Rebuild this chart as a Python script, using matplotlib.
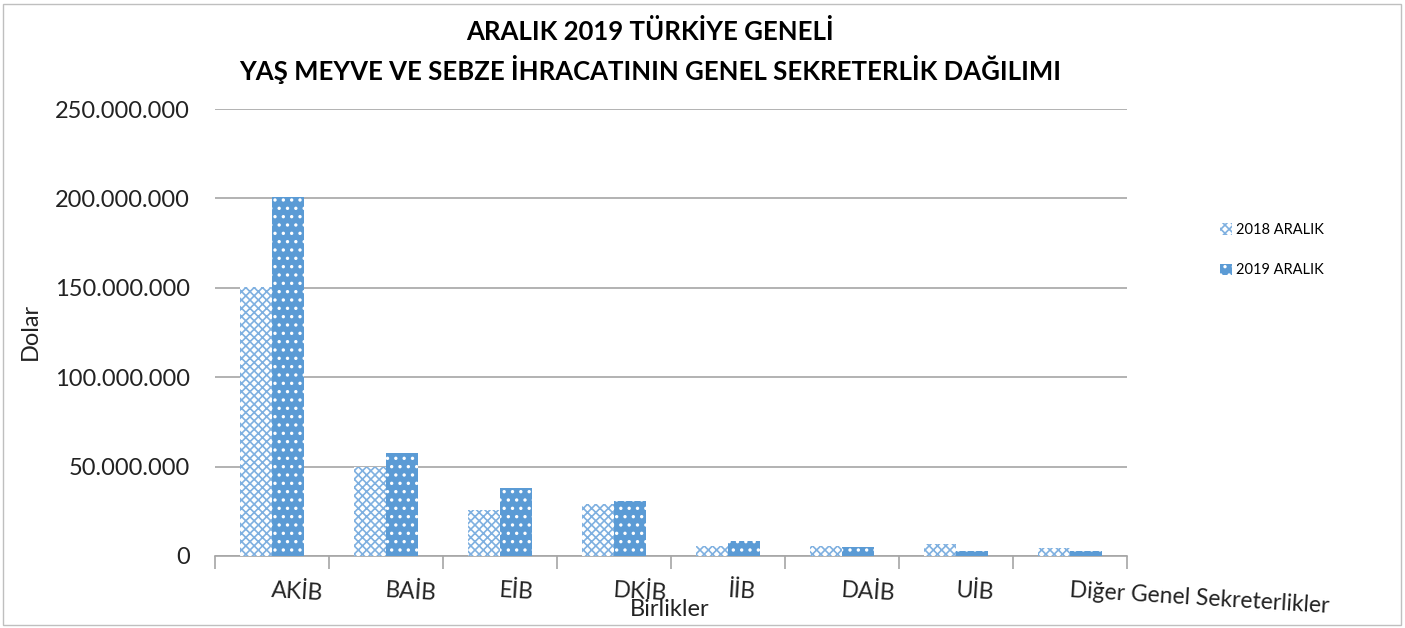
import matplotlib
matplotlib.use("Agg")
import matplotlib.pyplot as plt
import numpy as np
from matplotlib.patches import Rectangle, Patch
from matplotlib.ticker import FuncFormatter, MultipleLocator

categories = ["AKİB", "BAİB", "EİB", "DKİB", "İİB", "DAİB", "UİB", "Diğer Genel Sekreterlikler"]
values_2018 = [150_500_000, 49_800_000, 25_700_000, 29_000_000, 5_500_000, 5_600_000, 6_700_000, 4_500_000]
values_2019 = [201_000_000, 57_600_000, 38_000_000, 30_800_000, 8_400_000, 5_000_000, 2_800_000, 2_800_000]
series_names = ["2018 ARALIK", "2019 ARALIK"]
title_lines = ["ARALIK 2019 TÜRKİYE GENELİ", "YAŞ MEYVE VE SEBZE İHRACATININ GENEL SEKRETERLİK DAĞILIMI"]

plt.rcParams['font.family'] = ['Lato', 'DejaVu Sans']
plt.rcParams['hatch.linewidth'] = 1.2

fig = plt.figure(figsize=(14.05, 6.28), dpi=100)
ax = fig.add_axes([215/1405, (628-556)/628, (1127-215)/1405, (556-109)/628])

x = np.arange(len(categories))
w = 0.285
blue = "#5B9BD5"
b1 = ax.bar(x - w/2, values_2018, w, facecolor="white", edgecolor="#7FB0E0", hatch="xxxx", linewidth=0, zorder=3)
b2 = ax.bar(x + w/2, values_2019, w, facecolor=blue, edgecolor="white", hatch="..", linewidth=0, zorder=3)

ax.set_xlim(-0.5, len(categories) - 0.5)
ax.set_ylim(0, 250_000_000)
ax.yaxis.set_major_locator(MultipleLocator(50_000_000))
ax.yaxis.set_major_formatter(FuncFormatter(lambda v, p: f"{v:,.0f}".replace(",", ".")))
ax.grid(axis="y", color="#A6A6A6", linewidth=1.2, zorder=0)
for s in ["left", "right", "top"]:
    ax.spines[s].set_visible(False)
ax.spines["bottom"].set_color("#A6A6A6")
ax.spines["bottom"].set_linewidth(1.2)
ax.tick_params(axis="y", length=0, labelsize=17, pad=18, labelcolor="#222222")

ax.set_xticks(x)
ax.set_xticklabels(categories, fontsize=16.5, rotation=-3.5, rotation_mode="anchor", ha="left", va="top",
                   color="#222222")
ax.tick_params(axis="x", which="major", length=0, pad=17)
ax.set_xticks(np.arange(len(categories) + 1) - 0.5, minor=True)
ax.tick_params(axis="x", which="minor", length=9, width=1.2, color="#A6A6A6")

ax.set_ylabel("Dolar", fontsize=17, color="#222222")
ax.yaxis.set_label_coords((41 - 215) / (1127 - 215), (556 - 331) / (556 - 109))
fig.text(670/1405, 1 - 609/628, "Birlikler", fontsize=17, ha="center", va="center", color="#222222")

fig.text(650/1405, 1 - 31/628, title_lines[0], fontsize=18.5, fontweight="bold", ha="center", va="center")
fig.text(650/1405, 1 - 70/628, title_lines[1], fontsize=18.5, fontweight="bold", ha="center", va="center")

handles = [Patch(facecolor="white", edgecolor="#7FB0E0", hatch="xxxx", linewidth=0),
           Patch(facecolor=blue, edgecolor="white", hatch="..", linewidth=0)]
fig.legend(handles, series_names, loc="upper left", bbox_to_anchor=(1207/1405, 1 - 210/628),
           frameon=False, fontsize=10.5, handlelength=0.8, handleheight=0.8, handletextpad=0.3,
           labelspacing=1.8)

fig.patches.append(Rectangle((0.002, 0.004), 0.995, 0.99, transform=fig.transFigure,
                             fill=False, edgecolor="#BFBFBF", linewidth=1))

fig.savefig("out.png", dpi=100)
